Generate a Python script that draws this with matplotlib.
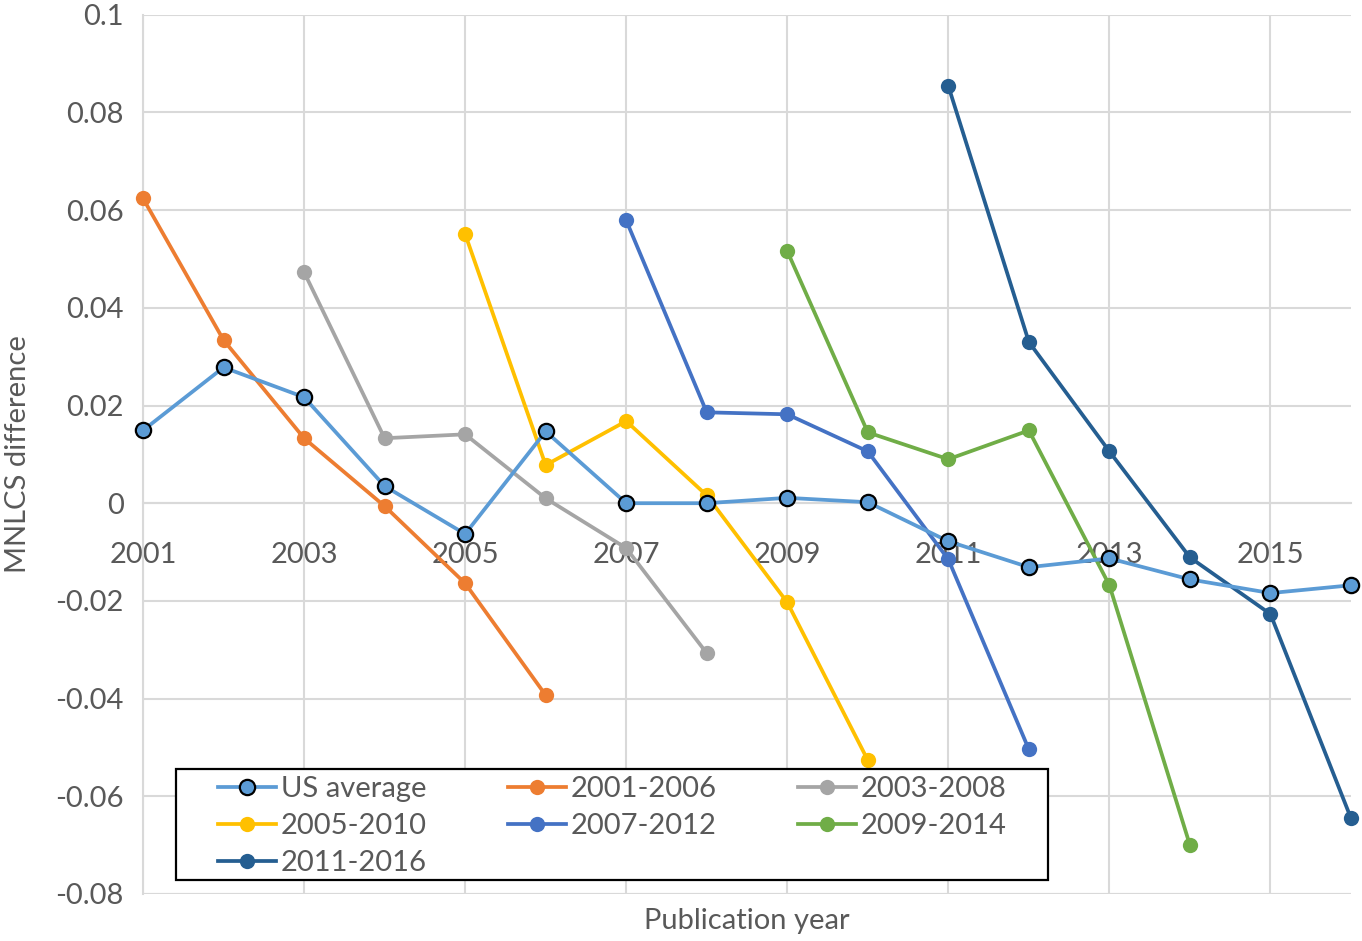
import numpy as np
import matplotlib
matplotlib.use('Agg')
import matplotlib.pyplot as plt
from matplotlib.patches import Rectangle

years = np.arange(2001, 2017)

us_avg = [0.0149, 0.0278, 0.0217, 0.0035, -0.0063, 0.0147, 0.0, 0.0,
          0.0011, 0.0002, -0.0078, -0.0131, -0.0113, -0.0156, -0.0184, -0.0168]

cohorts = {
    '2001-2006': (2001, [0.0624, 0.0334, 0.0133, -0.0006, -0.0164, -0.0393]),
    '2003-2008': (2003, [0.0473, 0.0133, 0.0141, 0.0010, -0.0092, -0.0307]),
    '2005-2010': (2005, [0.0551, 0.0078, 0.0168, 0.0016, -0.0203, -0.0526]),
    '2007-2012': (2007, [0.0579, 0.0186, 0.0182, 0.0106, -0.0115, -0.0504]),
    '2009-2014': (2009, [0.0516, 0.0145, 0.0090, 0.0149, -0.0168, -0.0700]),
    '2011-2016': (2011, [0.0854, 0.0330, 0.0106, -0.0111, -0.0227, -0.0645]),
}
colors = {
    '2001-2006': '#ED7D31',
    '2003-2008': '#A5A5A5',
    '2005-2010': '#FFC000',
    '2007-2012': '#4472C4',
    '2009-2014': '#70AD47',
    '2011-2016': '#255E91',
}

plt.rcParams['font.family'] = ['Lato', 'DejaVu Sans']
fs = 21
txt = '#595959'
grid = '#D9D9D9'
lw = 2.7
ms = 11

fig = plt.figure(figsize=(13.62, 9.41), dpi=100)
ax = fig.add_axes([143/1362, 1-894/941, (1351-143)/1362, (894-14.7)/941])

handles = {}
h, = ax.plot(years, us_avg, '-o', c='#5B9BD5', lw=lw, ms=ms, mfc='#5B9BD5',
             mec='black', mew=1.6, clip_on=False, zorder=4, label='US average')
handles['US average'] = h
for name, (start, vals) in cohorts.items():
    yr = np.arange(start, start + len(vals))
    h, = ax.plot(yr, vals, '-o', c=colors[name], lw=lw, ms=ms, mew=0,
                 clip_on=False, zorder=3, label=name)
    handles[name] = h

ax.set_xlim(2001, 2016)
ax.set_ylim(-0.08, 0.1)
ax.set_yticks(np.arange(-0.08, 0.101, 0.02))
ax.set_yticklabels(['-0.08', '-0.06', '-0.04', '-0.02', '0', '0.02', '0.04',
                    '0.06', '0.08', '0.1'])
ax.set_xticks(np.arange(2001, 2016, 2))
ax.grid(True, color=grid, lw=1.5, zorder=0)
for s in ['top', 'right']:
    ax.spines[s].set_visible(False)
ax.spines['left'].set_color(grid)
ax.spines['left'].set_linewidth(1.5)
ax.spines['bottom'].set_position(('data', 0))
ax.spines['bottom'].set_color(grid)
ax.spines['bottom'].set_linewidth(1.5)
ax.tick_params(length=0, labelsize=fs, colors=txt)
ax.tick_params(axis='y', pad=14)
ax.tick_params(axis='x', pad=28)
ax.axhline(-0.08, color=grid, lw=1.5, zorder=0)

ax.set_ylabel('MNLCS difference', fontsize=fs, color=txt)
ax.yaxis.set_label_coords(-0.093, 0.5)
fig.text(747/1362, 1-921/941, 'Publication year', fontsize=fs, color=txt,
         ha='center', va='center')

# legend box drawn separately so the inner padding matches
box = Rectangle((176/1362, 1-880/941), (1048-176)/1362, (880-769)/941,
                transform=fig.transFigure, facecolor='white',
                edgecolor='black', lw=1.6, zorder=5, clip_on=False)
ax.add_patch(box)

order = ['US average', '2005-2010', '2011-2016', '2001-2006', '2007-2012',
         '2003-2008', '2009-2014']
leg = ax.legend([handles[k] for k in order], order, ncol=3, loc='upper left',
                bbox_to_anchor=(218/1362, 1-776/941),
                bbox_transform=fig.transFigure, fontsize=fs, frameon=False,
                handlelength=2.0, handletextpad=0.15, columnspacing=2.78,
                labelspacing=0.38, borderpad=0.0, borderaxespad=0)
leg.set_zorder(6)
for t in leg.get_texts():
    t.set_color(txt)

fig.savefig('out.png', dpi=100)
